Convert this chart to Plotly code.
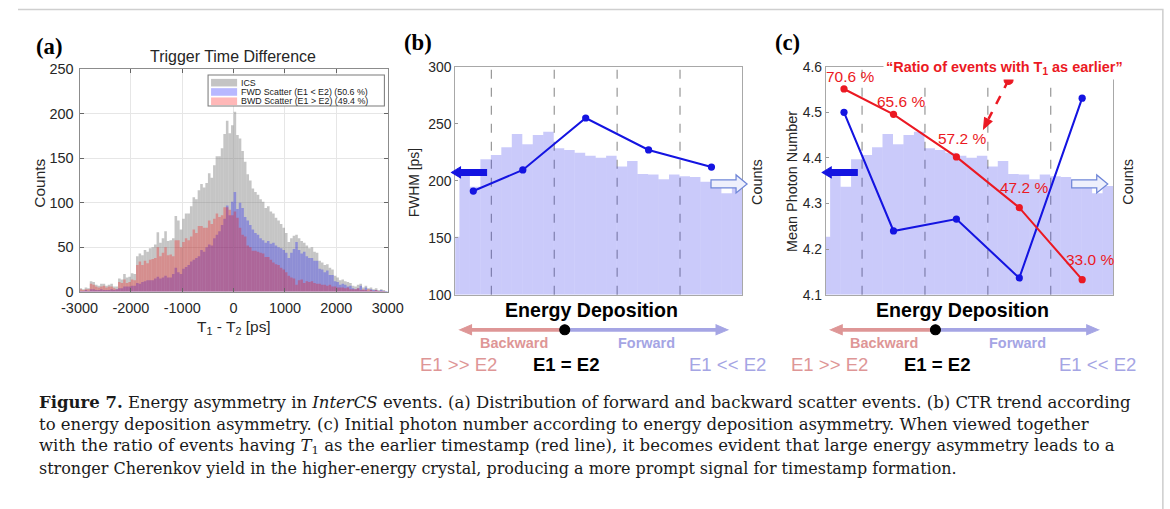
import plotly.graph_objects as go

# Layout is written in screen pixels of the final 1170 x 509 view.  The page
# shows the figure at ~97 % size, offset 20 px right and 8 px down, so screen
# pixels are converted to figure pixels (and sizes enlarged) below.
VIEW_SCALE = 0.9695
VIEW_X0, VIEW_Y0 = 20.3, 8.0
W, H = 1186, 517


def px(x):
    """screen pixel column -> paper x"""
    return ((x - VIEW_X0) / VIEW_SCALE) / W


def py(y):
    """screen pixel row -> paper y"""
    return 1 - ((y - VIEW_Y0) / VIEW_SCALE) / H


def sz(v):
    """screen size (font, line width, marker) -> figure size"""
    return v / VIEW_SCALE


def poly(points, close=True):
    d = "M " + " L ".join(f"{px(x):.5f},{py(y):.5f}" for x, y in points)
    return d + (" Z" if close else "")


# ---------------- (a) trigger time difference, 50 ps bins ----------------
TIME_START = -3000
TIME_BIN = 50
fwd_counts = [
    1, 1, 2, 1, 3, 3, 2, 2, 3, 2, 2, 2, 3, 2, 3, 4, 4, 6, 6, 6, 7, 7,
    10, 9, 11, 12, 13, 13, 13, 15, 17, 15, 16, 18, 16, 16, 20, 27, 22, 20,
    26, 28, 30, 34, 36, 38, 40, 47, 45, 50,
    53, 52, 60, 64, 68, 75, 82, 97, 86, 101,
    112, 93, 100, 94, 84, 80, 75, 70, 66, 64,
    60, 58, 55, 57, 54, 55, 52, 50, 49, 47,
    44,
    38, 44, 48, 56, 47, 43, 45, 40, 38, 38,
    35, 35, 26, 25, 22, 24, 19, 19, 12, 11,
    8, 9, 8, 6, 7, 4, 3, 4, 7, 2,
    5, 1, 3, 2, 2, 1, 2, 1, 1,
]
bwd_counts = [
    3, 2, 3, 3, 9, 8, 6, 5, 6, 7, 5, 6, 6, 4, 3, 11, 10, 14, 10, 11, 14, 13,
    30, 34, 30, 35, 32, 36, 37, 38, 50, 40, 44, 50, 41, 42, 40, 58, 58, 50,
    56, 60, 58, 62, 70, 66, 74, 74, 72, 72,
    80, 76, 82, 88, 84, 86, 95, 95, 92, 86,
    90, 83, 72, 64, 62, 52, 50, 46, 46, 45,
    44, 43, 39, 39, 36, 33, 31, 30, 27, 25,
    22,
    18, 16, 15, 8, 13, 14, 10, 12, 11, 12,
    10, 9, 9, 8, 8, 7, 8, 6, 6, 5,
    5, 5, 4, 5, 3, 3, 3, 4, 2, 3,
    2, 3, 2, 1, 2, 1, 1, 1, 0,
]
# every ICS event is either forward or backward scattered
ics_counts = [f + b for f, b in zip(fwd_counts, bwd_counts)]
time_centers = [TIME_START + TIME_BIN * (i + 0.5) for i in range(len(ics_counts))]
time_ticks = [-3000, -2000, -1000, 0, 1000, 2000, 3000]
count_ticks = [0, 50, 100, 150, 200, 250]
legend_labels = ["ICS", "FWD Scatter (E1 < E2) (50.6 %)", "BWD Scatter (E1 > E2) (49.4 %)"]

# ---------------- (b), (c) energy deposition asymmetry ----------------
ASYM_FIRST_EDGE = -0.87
ASYM_BIN = 1 / 15
asym_counts = [255, 530, 474, 594, 613, 647, 705, 660, 701, 715, 642, 635, 623, 610,
               601, 610, 562, 587, 530, 528, 507, 527, 520, 517, 496, 496, 445, 477]
asym_centers = [ASYM_FIRST_EDGE + ASYM_BIN * (i + 0.5) for i in range(len(asym_counts))]
asym_right = ASYM_FIRST_EDGE + ASYM_BIN * len(asym_counts)
asym_left = -0.83
group_bounds = [-0.6, -0.2, 0.2, 0.6]
group_centers = [-0.715, -0.4, 0.0, 0.4, 0.8]
fwhm_ps = [191, 209.5, 255, 227, 212]
fwhm_ticks = [100, 150, 200, 250, 300]
mean_photons = [4.50, 4.24, 4.266, 4.137, 4.531]
photon_ticks = [4.1, 4.2, 4.3, 4.4, 4.5, 4.6]
t1_earlier_pct = [70.6, 65.6, 57.2, 47.2, 33.0]

SANS = "Liberation Sans, Arial, sans-serif"
SERIF = "Liberation Serif, Times New Roman, serif"
CAPTION_SERIF = "DejaVu Serif, serif"
INK = "#262626"
BLUE = "rgb(20,20,225)"
RED = "rgb(235,25,35)"
PINK = "rgb(222,150,150)"
LAV = "rgb(165,165,228)"
HIST_FILL = "rgba(60,60,235,0.27)"

fig = go.Figure()

# (a) histograms
fig.add_trace(go.Bar(x=time_centers, y=ics_counts, width=TIME_BIN,
                     marker=dict(color="rgba(110,110,110,0.40)", line_width=0),
                     xaxis="x", yaxis="y", showlegend=False, hoverinfo="skip"))
fig.add_trace(go.Bar(x=time_centers, y=fwd_counts, width=TIME_BIN,
                     marker=dict(color="rgba(0,0,255,0.28)", line_width=0),
                     xaxis="x", yaxis="y", showlegend=False, hoverinfo="skip"))
fig.add_trace(go.Bar(x=time_centers, y=bwd_counts, width=TIME_BIN,
                     marker=dict(color="rgba(255,0,0,0.28)", line_width=0),
                     xaxis="x", yaxis="y", showlegend=False, hoverinfo="skip"))

# (b) counts background + FWHM
fig.add_trace(go.Bar(x=asym_centers, y=asym_counts, width=ASYM_BIN,
                     marker=dict(color=HIST_FILL, line_width=0),
                     xaxis="x2", yaxis="y2", showlegend=False, hoverinfo="skip"))
fig.add_trace(go.Scatter(x=group_centers, y=fwhm_ps, mode="lines+markers",
                         line=dict(color=BLUE, width=sz(2)),
                         marker=dict(size=sz(7), color=BLUE),
                         xaxis="x2", yaxis="y3", showlegend=False))

# (c) counts background + mean photon number + T1-earlier ratio
fig.add_trace(go.Bar(x=asym_centers, y=asym_counts, width=ASYM_BIN,
                     marker=dict(color=HIST_FILL, line_width=0),
                     xaxis="x3", yaxis="y4", showlegend=False, hoverinfo="skip"))
fig.add_trace(go.Scatter(x=group_centers, y=mean_photons, mode="lines+markers",
                         line=dict(color=BLUE, width=sz(2)),
                         marker=dict(size=sz(7), color=BLUE),
                         xaxis="x3", yaxis="y5", showlegend=False))
fig.add_trace(go.Scatter(x=group_centers, y=t1_earlier_pct, mode="lines+markers",
                         line=dict(color=RED, width=sz(2)),
                         marker=dict(size=sz(7), color=RED),
                         xaxis="x3", yaxis="y6", showlegend=False))

box_b = dict(showline=True, mirror=True, linecolor="#a8a8a8", linewidth=sz(1),
             showgrid=False, zeroline=False)
tick_font = dict(family=SANS, size=sz(13.5), color=INK)
a_axis = dict(ticks="inside", ticklen=sz(4), tickcolor="#666", showline=True,
              mirror="ticks", linecolor="#8c8c8c", linewidth=sz(1),
              showgrid=True, gridcolor="#e6e6e6", zeroline=False,
              tickfont=dict(family=SANS, size=sz(14), color=INK))

fig.update_layout(
    width=W, height=H, margin=dict(l=0, r=0, t=0, b=0),
    paper_bgcolor="white", plot_bgcolor="white",
    barmode="overlay", showlegend=False,
    font=dict(family=SANS, color=INK),
    xaxis=dict(domain=[px(81.7), px(389.3)], range=[TIME_START, -TIME_START], anchor="y",
               tickvals=time_ticks, ticktext=[str(v) for v in time_ticks],
               ticklabelstandoff=3, **a_axis),
    yaxis=dict(domain=[py(292), py(69)], range=[0, 250], anchor="x",
               tickvals=count_ticks, ticklabelstandoff=2, **a_axis),
    xaxis2=dict(domain=[px(456.7), px(743.3)], range=[asym_left, asym_right], anchor="y2",
                showticklabels=False, ticks="", **box_b),
    yaxis2=dict(domain=[py(295), py(66.7)], range=[0, 1000], anchor="x2", visible=False),
    yaxis3=dict(overlaying="y2", anchor="x2", side="left", range=[100, 300],
                tickvals=fwhm_ticks, ticks="inside", ticklen=sz(3), tickcolor="#999",
                tickfont=tick_font, **box_b),
    xaxis3=dict(domain=[px(826.7), px(1113.3)], range=[asym_left, asym_right], anchor="y4",
                showticklabels=False, ticks="", **box_b),
    yaxis4=dict(domain=[py(295), py(66.7)], range=[0, 1000], anchor="x3", visible=False),
    yaxis5=dict(overlaying="y4", anchor="x3", side="left", range=[4.1, 4.6],
                tickvals=photon_ticks, tickformat=".1f", ticks="inside", ticklen=sz(3),
                tickcolor="#999", tickfont=tick_font, **box_b),
    yaxis6=dict(overlaying="y4", anchor="x3", side="right", range=[30, 75], visible=False),
)

shapes = []
# figure frame (top and right edges)
shapes.append(dict(type="path", xref="paper", yref="paper",
                   path=poly([(20.3, 9.5), (1163, 9.5), (1163, 515)], close=False),
                   line=dict(color="#cfcfcf", width=sz(1.5))))

# group boundaries in (b) and (c)
for xr, yr in (("x2", "y2 domain"), ("x3", "y4 domain")):
    for b in group_bounds:
        shapes.append(dict(type="line", xref=xr, yref=yr, x0=b, x1=b, y0=0, y1=1,
                           line=dict(color="#9a9a9a", width=sz(1.2), dash="dash"),
                           layer="below"))

# legend of (a)
shapes.append(dict(type="rect", xref="paper", yref="paper",
                   x0=px(210), x1=px(386), y0=py(106), y1=py(75),
                   line=dict(color="#7a7a7a", width=sz(1)), fillcolor="white"))
swatches = ["#c4c4c4", "#b8b8ff", "#ffb8b8"]
rows_y = [82.7, 92, 101.3]
for c, yc in zip(swatches, rows_y):
    shapes.append(dict(type="rect", xref="paper", yref="paper",
                       x0=px(213), x1=px(239), y0=py(yc + 3.8), y1=py(yc - 3.8),
                       line=dict(width=0), fillcolor=c))

# axis pointers: filled arrow to the left axis, open arrow to the counts side
for dx in (0, 370):
    shapes.append(dict(type="path", xref="paper", yref="paper",
                       path=poly([(453 + dx, 172.5), (462 + dx, 167), (462 + dx, 169.5),
                                  (488 + dx, 169.5), (488 + dx, 175.5), (462 + dx, 175.5),
                                  (462 + dx, 178)]),
                       line=dict(color=BLUE, width=sz(1)), fillcolor=BLUE))
for dx in (0, 360):
    shapes.append(dict(type="path", xref="paper", yref="paper",
                       path=poly([(712 + dx, 180), (737 + dx, 180), (737 + dx, 175),
                                  (748 + dx, 184), (737 + dx, 193), (737 + dx, 188),
                                  (712 + dx, 188)]),
                       line=dict(color="#6f86d8", width=sz(1.2)), fillcolor="#eef0fc"))

# scheme under (b) and (c): backward / forward arrow
for dx in (0, 370):
    shapes.append(dict(type="line", xref="paper", yref="paper",
                       x0=px(470 + dx), x1=px(566 + dx), y0=py(330), y1=py(330),
                       line=dict(color=PINK, width=sz(3.5))))
    shapes.append(dict(type="line", xref="paper", yref="paper",
                       x0=px(566 + dx), x1=px(720 + dx), y0=py(330), y1=py(330),
                       line=dict(color=LAV, width=sz(3.5))))
    shapes.append(dict(type="path", xref="paper", yref="paper",
                       path=poly([(461 + dx, 330), (473 + dx, 325), (473 + dx, 335)]),
                       line=dict(color=PINK, width=sz(1)), fillcolor=PINK))
    shapes.append(dict(type="path", xref="paper", yref="paper",
                       path=poly([(729 + dx, 330), (717 + dx, 325), (717 + dx, 335)]),
                       line=dict(color=LAV, width=sz(1)), fillcolor=LAV))
    shapes.append(dict(type="circle", xref="paper", yref="paper",
                       x0=px(561 + dx), x1=px(571 + dx), y0=py(335), y1=py(325),
                       line=dict(color="black", width=sz(1)), fillcolor="black"))

# red dashed pointer from the ratio caption to the red line
shapes.append(dict(type="line", xref="paper", yref="paper",
                   x0=px(1009), y0=py(80), x1=px(989), y1=py(119),
                   line=dict(color=RED, width=sz(2.5), dash="dash")))
shapes.append(dict(type="path", xref="paper", yref="paper",
                   path=poly([(984, 129), (992.5, 121.5), (985, 117.5)]),
                   line=dict(color=RED, width=sz(1)), fillcolor=RED))
shapes.append(dict(type="circle", xref="paper", yref="paper",
                   x0=px(1004.5), x1=px(1013.5), y0=py(84.5), y1=py(75.5),
                   line=dict(color=RED, width=sz(1)), fillcolor=RED))

fig.update_layout(shapes=shapes)

ann = []


def text(x, y, s, size, color=INK, family=SANS, angle=0, xanchor="center", **kw):
    ann.append(dict(x=px(x), y=py(y), xref="paper", yref="paper", text=s,
                    showarrow=False, xanchor=xanchor, yanchor="middle", textangle=angle,
                    font=dict(family=family, size=sz(size), color=color), **kw))


# panel letters
text(51, 47, "<b>(a)</b>", 22, "black", SERIF)
text(420, 43, "<b>(b)</b>", 22, "black", SERIF)
text(788, 43, "<b>(c)</b>", 22, "black", SERIF)

# (a) titles and legend text
text(235, 57, "Trigger Time Difference", 15.5)
text(42, 183, "Counts", 15, angle=-90)
text(236, 328, "T<sub>1</sub> - T<sub>2</sub> [ps]", 15)
for lab, yc in zip(legend_labels, rows_y):
    text(242, yc, lab, 8.6, "#1a1a1a", xanchor="left", borderpad=0)

# (b), (c) axis labels
text(415, 182, "FWHM [ps]", 13.5, angle=-90)
text(758, 182, "Counts", 14, angle=-90)
text(793, 182, "Mean Photon Number", 14, angle=-90)
text(1128, 182, "Counts", 14, angle=-90)

for dx in (0, 370):
    text(593 + dx, 310, "<b>Energy Deposition</b>", 19, "black")
    text(515 + dx, 343, "<b>Backward</b>", 14, PINK)
    text(648 + dx, 343, "<b>Forward</b>", 14, LAV)
    text(460 + dx, 365, "E1 >> E2", 18, PINK)
    text(568 + dx, 365, "<b>E1 = E2</b>", 18, "black")
    text(728 + dx, 365, "E1 << E2", 18, LAV)

text(1005, 68, "<b>\u201cRatio of events with T<sub>1</sub> as earlier\u201d</b>", 14, RED,
     bgcolor="white", borderpad=2)

# value labels of the red line
label_shift = [(6, 12), (7, 12), (5, 18), (5, 20), (8, 20)]
for xc, v, (sx, sy) in zip(group_centers, t1_earlier_pct, label_shift):
    ann.append(dict(x=xc, y=v, xref="x3", yref="y6", text=f"{v:.1f} %",
                    showarrow=False, xshift=sz(sx), yshift=sz(sy),
                    font=dict(family=SANS, size=sz(15), color=RED)))

# caption
caption = [
    "<b>Figure 7.</b> Energy asymmetry in <i>InterCS</i> events. (a) Distribution of forward and "
    "backward scatter events. (b) CTR trend according",
    "to energy deposition asymmetry. (c) Initial photon number according to energy deposition "
    "asymmetry. When viewed together",
    "with the ratio of events having <i>T</i><sub>1</sub> as the earlier timestamp (red line), it "
    "becomes evident that large energy asymmetry leads to a",
    "stronger Cherenkov yield in the higher-energy crystal, producing a more prompt signal for "
    "timestamp formation.",
]
caption_sizes = [16.0, 16.0, 16.0, 15.5]
for i, (line, fsz) in enumerate(zip(caption, caption_sizes)):
    text(40, 403 + 22 * i, line, fsz, "#1a1a1a", CAPTION_SERIF, xanchor="left", borderpad=0)

fig.update_layout(annotations=ann)
fig.write_html("out.html")
